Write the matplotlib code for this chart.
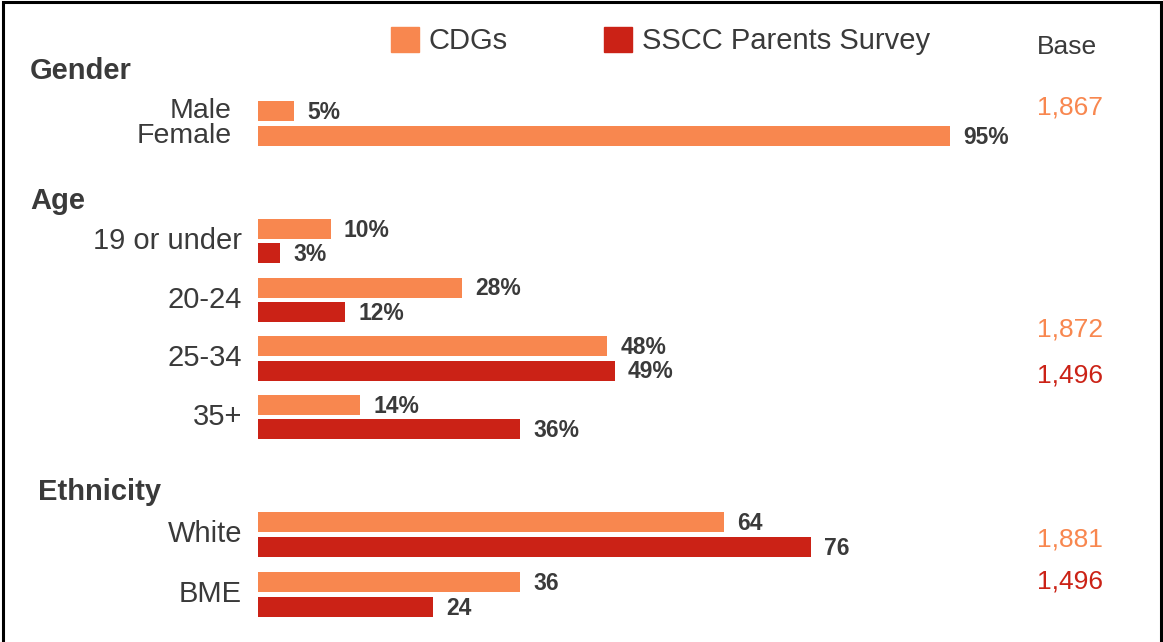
import matplotlib
matplotlib.use("Agg")
import matplotlib.pyplot as plt
import matplotlib.transforms as mtransforms
from matplotlib.patches import Patch, Rectangle

plt.rcParams['font.family'] = ['Liberation Sans', 'DejaVu Sans']

# Data
series_names = ['CDGs', 'SSCC Parents Survey']

gender_labels = ['Male', 'Female']
gender_cdg = [5, 95]
gender_base = ['1,867']

age_labels = ['19 or under', '20-24', '25-34', '35+']
age_cdg = [10, 28, 48, 14]
age_sscc = [3, 12, 49, 36]
age_base = ['1,872', '1,496']

eth_labels = ['White', 'BME']
eth_cdg = [64, 36]
eth_sscc = [76, 24]
eth_base = ['1,881', '1,496']

# Style
ORANGE = '#F8874F'
RED = '#CB2216'
TXT = '#3A3A3A'
W, H = 1163, 642

fig = plt.figure(figsize=(W / 100, H / 100), dpi=100)
ax = fig.add_axes([258 / W, 0, 728 / W, 1])
ax.set_xlim(0, 100)
ax.set_ylim(H, 0)   # y axis runs in pixel rows, top to bottom
ax.axis('off')

# x in figure fraction, y in axis data units
lab = mtransforms.blended_transform_factory(fig.transFigure, ax.transData)

bar_h = 20
pair_off = 12.2


def value_label(x, y, txt):
    ax.annotate(txt, (x, y), xytext=(9.5, -1), textcoords='offset points',
                ha='left', va='center', fontsize=16.5, fontweight='bold',
                color=TXT, annotation_clip=False)


# Gender (single series)
g_y0, g_step = 111, 25
for i, (name, v) in enumerate(zip(gender_labels, gender_cdg)):
    y = g_y0 + i * g_step
    ax.barh(y, v, height=bar_h, color=ORANGE)
    value_label(v, y, f'{v}%')
    ax.text(232 / W, y, name, transform=lab, ha='right', va='center',
            fontsize=20.5, color=TXT)


def paired(labels, a, b, y0, step, pct):
    for i, (name, va_, vb) in enumerate(zip(labels, a, b)):
        yc = y0 + i * step
        ax.barh(yc - pair_off, va_, height=bar_h, color=ORANGE)
        ax.barh(yc + pair_off, vb, height=bar_h, color=RED)
        sfx = '%' if pct else ''
        value_label(va_, yc - pair_off, f'{va_}{sfx}')
        value_label(vb, yc + pair_off, f'{vb}{sfx}')
        ax.text(242 / W, yc, name, transform=lab, ha='right', va='center',
                fontsize=21, color=TXT)


paired(age_labels, age_cdg, age_sscc, 241, 58.7, True)
paired(eth_labels, eth_cdg, eth_sscc, 534.5, 60, False)

# Group headers
for name, x, y in [('Gender', 30, 71), ('Age', 30, 201), ('Ethnicity', 38, 492)]:
    ax.text(x / W, y, name, transform=lab, ha='left', va='center',
            fontsize=21, fontweight='bold', color=TXT)

# Base column
bx = 1037 / W
ax.text(bx, 47, 'Base', transform=lab, ha='left', va='center', fontsize=19, color=TXT)
ax.text(bx, 107, gender_base[0], transform=lab, ha='left', va='center', fontsize=19, color=ORANGE)
ax.text(bx, 330, age_base[0], transform=lab, ha='left', va='center', fontsize=19, color=ORANGE)
ax.text(bx, 375, age_base[1], transform=lab, ha='left', va='center', fontsize=19, color=RED)
ax.text(bx, 539, eth_base[0], transform=lab, ha='left', va='center', fontsize=19, color=ORANGE)
ax.text(bx, 582, eth_base[1], transform=lab, ha='left', va='center', fontsize=19, color=RED)

# Legend
handles = [Patch(color=ORANGE), Patch(color=RED)]
fig.legend(handles, series_names, loc='center left',
           bbox_to_anchor=(391 / W, 1 - 41 / H), ncol=2, frameon=False,
           fontsize=21, handlelength=0.95, handleheight=0.95,
           handletextpad=0.35, columnspacing=3.3, borderpad=0, borderaxespad=0,
           labelcolor=TXT)

# Outer frame (bottom edge sits below the image)
fig.add_artist(Rectangle((3 / W, -0.05), (1158) / W, 1.05 - 2 / H,
                         transform=fig.transFigure, fill=False,
                         edgecolor='black', linewidth=2.2))

fig.savefig('out.png', dpi=100)
